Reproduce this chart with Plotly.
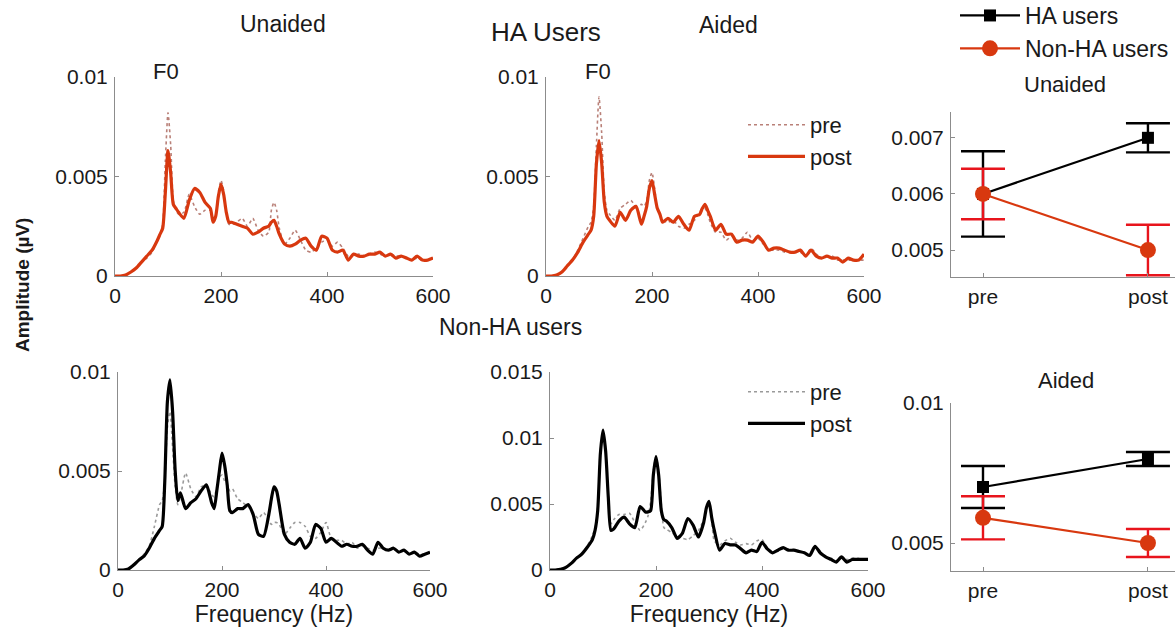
import plotly.graph_objects as go

W, H = 1175, 629

# ---------------- data ----------------
FREQ = [0, 10, 20, 30, 40, 50, 60, 70, 80,
        85, 90, 95, 100, 105, 110, 115, 120,
        130, 140, 150, 160, 170, 180,
        185, 190, 195, 200, 205, 210, 215, 220,
        230, 240, 250, 260, 270, 280, 290,
        295, 300, 305, 310,
        320, 330, 340, 350, 360, 370, 380, 390, 400, 410, 420, 430, 440, 450, 460,
        470, 480, 490, 500, 510, 520, 530, 540, 550, 560, 570, 580, 590, 600]

# HA users, unaided
HA_UNAIDED_PRE = [0, 0, 0.00005, 0.0002, 0.0004, 0.0007, 0.0009, 0.0012, 0.0018,
                  0.0021, 0.0026, 0.0058, 0.0082, 0.0066, 0.0038, 0.0033, 0.0031,
                  0.0032, 0.0041, 0.0035, 0.0031, 0.0033, 0.0033,
                  0.0028, 0.003, 0.0042, 0.0048, 0.0043, 0.0031, 0.0026, 0.0026,
                  0.0027, 0.0029, 0.0025, 0.0029, 0.0023, 0.002, 0.0022,
                  0.0033, 0.0037, 0.0033, 0.0024,
                  0.0016, 0.0019, 0.0023, 0.0018, 0.0013, 0.0012, 0.0014, 0.0017, 0.0018, 0.0015, 0.0017, 0.0014, 0.001, 0.0011, 0.0011,
                  0.001, 0.0011, 0.0012, 0.0011, 0.001, 0.0011, 0.001, 0.001, 0.0009, 0.0008, 0.0009, 0.0008, 0.0008, 0.0009]
HA_UNAIDED_POST = [0, 0, 0.00005, 0.0002, 0.0004, 0.0007, 0.001, 0.0013, 0.0018,
                   0.0021, 0.0024, 0.0042, 0.0063, 0.0052, 0.0036, 0.0034, 0.0032,
                   0.0029, 0.0038, 0.0044, 0.0042, 0.0037, 0.0034,
                   0.0027, 0.003, 0.004, 0.0046, 0.0041, 0.0032, 0.0027, 0.0027,
                   0.0026, 0.0025, 0.0024, 0.0021, 0.0022, 0.0024, 0.0025,
                   0.0027, 0.0028, 0.0025, 0.0021,
                   0.0016, 0.0015, 0.0016, 0.0018, 0.0019, 0.0015, 0.0013, 0.002, 0.0019, 0.0013, 0.0012, 0.0013, 0.0008, 0.0011, 0.001,
                   0.001, 0.0011, 0.0011, 0.0012, 0.001, 0.0011, 0.0009, 0.001, 0.0009, 0.0008, 0.001, 0.0008, 0.0008, 0.0009]

# HA users, aided
HA_AIDED_PRE = [0, 0, 0.00005, 0.0002, 0.0005, 0.0008, 0.0013, 0.0019, 0.0025,
                0.0027, 0.0035, 0.0065, 0.009, 0.0072, 0.0042, 0.0033, 0.0031,
                0.0028, 0.0034, 0.0036, 0.0038, 0.0035, 0.0036,
                0.0035, 0.0038, 0.0048, 0.0052, 0.0044, 0.0034, 0.0031, 0.0028,
                0.0027, 0.0028, 0.0025, 0.0024, 0.0026, 0.0028, 0.0032,
                0.0034, 0.0034, 0.0031, 0.0027,
                0.0022, 0.0022, 0.0018, 0.002, 0.0018, 0.0019, 0.0022, 0.0018, 0.0019, 0.0016, 0.0013, 0.0013, 0.0013, 0.0012, 0.0012,
                0.0012, 0.0012, 0.001, 0.0014, 0.0011, 0.0009, 0.001, 0.001, 0.0008, 0.0008, 0.0008, 0.0008, 0.0008, 0.0008]
HA_AIDED_POST = [0, 0, 0.00005, 0.0002, 0.0005, 0.0008, 0.0012, 0.0017, 0.0021,
                 0.0023, 0.003, 0.0056, 0.0068, 0.0057, 0.0037, 0.003, 0.0028,
                 0.0025, 0.0032, 0.0028, 0.0033, 0.0035, 0.0026,
                 0.003, 0.0035, 0.0044, 0.0048, 0.0041, 0.0034, 0.0031, 0.0027,
                 0.0029, 0.0027, 0.003, 0.0026, 0.0023, 0.003, 0.0031,
                 0.0034, 0.0036, 0.0033, 0.003,
                 0.0023, 0.0026, 0.0021, 0.0021, 0.0017, 0.0018, 0.0018, 0.0017, 0.002, 0.0017, 0.0013, 0.0014, 0.0014, 0.0013, 0.0012,
                 0.0012, 0.0013, 0.001, 0.0013, 0.001, 0.0009, 0.001, 0.0009, 0.0009, 0.0007, 0.0009, 0.0008, 0.0008, 0.0011]

# Non-HA users, unaided
NON_UNAIDED_PRE = [0, 0, 0.00005, 0.00025, 0.0005, 0.0008, 0.0012, 0.0022, 0.0033,
                   0.0035, 0.0045, 0.0072, 0.008, 0.0062, 0.0042, 0.0033, 0.0037,
                   0.0049, 0.0041, 0.0037, 0.0042, 0.0043, 0.0038,
                   0.0037, 0.0042, 0.0047, 0.0048, 0.0045, 0.0043, 0.004, 0.0041,
                   0.0036, 0.0034, 0.0032, 0.0029, 0.0026, 0.0029, 0.0025,
                   0.0023, 0.0024, 0.0024, 0.0023,
                   0.0018, 0.0021, 0.0024, 0.0024, 0.0022, 0.0017, 0.0016, 0.0019, 0.0024, 0.0016, 0.0015, 0.0015, 0.0013, 0.0014, 0.0011,
                   0.0012, 0.0011, 0.001, 0.0011, 0.0011, 0.001, 0.0011, 0.0009, 0.001, 0.0008, 0.0009, 0.0008, 0.0008, 0.0009]
NON_UNAIDED_POST = [0, 0, 0.00005, 0.00025, 0.0005, 0.0007, 0.0011, 0.0016, 0.002,
                    0.0022, 0.0045, 0.0085, 0.0096, 0.008, 0.005, 0.0035, 0.0039,
                    0.0031, 0.0034, 0.0036, 0.004, 0.0043, 0.0034,
                    0.0031, 0.004, 0.005, 0.0059, 0.0053, 0.0043, 0.003, 0.0029,
                    0.0031, 0.0031, 0.0033, 0.0028, 0.0018, 0.0017, 0.0028,
                    0.0036, 0.0042, 0.004, 0.0033,
                    0.0018, 0.0014, 0.0013, 0.0016, 0.0011, 0.0014, 0.0023, 0.0021, 0.0014, 0.0016, 0.0014, 0.0012, 0.0013, 0.0012, 0.0012,
                    0.0013, 0.001, 0.0008, 0.0014, 0.0011, 0.001, 0.0011, 0.0009, 0.001, 0.0008, 0.0009, 0.0007, 0.0008, 0.0009]

# Non-HA users, aided
NON_AIDED_PRE = [0, 0, 0.00005, 0.0002, 0.0005, 0.0009, 0.0013, 0.0018, 0.0026,
                 0.0032, 0.0048, 0.009, 0.0104, 0.009, 0.0055, 0.0035, 0.0038,
                 0.0042, 0.0042, 0.0043, 0.0036, 0.003, 0.0036,
                 0.0041, 0.0052, 0.0075, 0.0086, 0.0075, 0.005, 0.0032, 0.0031,
                 0.0028, 0.0026, 0.0024, 0.0023, 0.0026, 0.003, 0.0038,
                 0.0048, 0.0049, 0.0038, 0.0022,
                 0.0019, 0.0022, 0.0024, 0.0021, 0.0019, 0.002, 0.0019, 0.0022, 0.0023, 0.0017, 0.0014, 0.0015, 0.0016, 0.0016, 0.0015,
                 0.0014, 0.0013, 0.0012, 0.0018, 0.0012, 0.001, 0.0009, 0.0007, 0.001, 0.0008, 0.0009, 0.0009, 0.0008, 0.0009]
NON_AIDED_POST = [0, 0, 0.00005, 0.0002, 0.0005, 0.0009, 0.0012, 0.0017, 0.0023,
                  0.003, 0.0045, 0.0088, 0.0106, 0.009, 0.0055, 0.003, 0.0031,
                  0.0037, 0.004, 0.0035, 0.0032, 0.0048, 0.0044,
                  0.0044, 0.0045, 0.0072, 0.0086, 0.0072, 0.0045, 0.0038, 0.0037,
                  0.0032, 0.0024, 0.0028, 0.0039, 0.0034, 0.0025, 0.0036,
                  0.0047, 0.0052, 0.004, 0.003,
                  0.0015, 0.002, 0.0019, 0.0019, 0.0016, 0.0013, 0.0015, 0.0014, 0.0021, 0.0016, 0.0013, 0.0015, 0.0017, 0.0015, 0.0015,
                  0.0014, 0.0013, 0.0011, 0.0018, 0.0013, 0.001, 0.0008, 0.0006, 0.001, 0.0006, 0.0008, 0.0008, 0.0008, 0.0008]

# Group means (F0 amplitude) and error bars
CONDITIONS = ["pre", "post"]
HA_MEAN_UNAIDED = [0.006, 0.007]
HA_ERR_UNAIDED = [0.00076, 0.00026]
NON_MEAN_UNAIDED = [0.006, 0.005]
NON_ERR_UNAIDED = [0.00045, 0.00045]
HA_MEAN_AIDED = [0.007, 0.008]
HA_ERR_AIDED = [0.00075, 0.00025]
NON_MEAN_AIDED = [0.0059, 0.005]
NON_ERR_AIDED = [0.00077, 0.0005]

FREQ_TICKS = [0, 200, 400, 600]

# ---------------- styles ----------------
FONT = "Liberation Sans, Arial, Helvetica, sans-serif"
TXT = "#1a1a1a"
AX = "#8c8c8c"
ORANGE = "#d8380f"
PRE_ORANGE = "#b98078"
RED = "#e8141c"
BLACK = "#000000"
PRE_GREY = "#9a9a9a"
TICK_SIZE = 21


def px_x(x):
    return x / W


def px_y(y):
    return 1 - y / H


fig = go.Figure()


def spectrum(xa, ya, pre, post, post_color, pre_color, legend=None):
    show = legend is not None
    fig.add_trace(go.Scatter(x=FREQ, y=pre, mode="lines", name="pre",
                             line=dict(color=pre_color, width=1.6, dash="dot", shape="spline", smoothing=0.6),
                             xaxis=xa, yaxis=ya, showlegend=show, legend=legend or "legend"))
    fig.add_trace(go.Scatter(x=FREQ, y=post, mode="lines", name="post",
                             line=dict(color=post_color, width=3.2, shape="spline", smoothing=0.6),
                             xaxis=xa, yaxis=ya, showlegend=show, legend=legend or "legend"))


spectrum("x", "y", HA_UNAIDED_PRE, HA_UNAIDED_POST, ORANGE, PRE_ORANGE)
spectrum("x2", "y2", HA_AIDED_PRE, HA_AIDED_POST, ORANGE, PRE_ORANGE, legend="legend2")
spectrum("x3", "y3", NON_UNAIDED_PRE, NON_UNAIDED_POST, BLACK, PRE_GREY)
spectrum("x4", "y4", NON_AIDED_PRE, NON_AIDED_POST, BLACK, PRE_GREY, legend="legend3")


def group(xa, ya, mean, err, name, lcolor, ecolor, symbol, msize, show):
    fig.add_trace(go.Scatter(x=CONDITIONS, y=mean, mode="lines+markers", name=name,
                             line=dict(color=lcolor, width=2.2),
                             marker=dict(symbol=symbol, size=msize, color=lcolor),
                             error_y=dict(type="data", array=err, visible=True, color=ecolor,
                                          thickness=2.4, width=22),
                             xaxis=xa, yaxis=ya, showlegend=show, legend="legend"))


group("x5", "y5", HA_MEAN_UNAIDED, HA_ERR_UNAIDED, "HA users", BLACK, BLACK, "square", 12, True)
group("x5", "y5", NON_MEAN_UNAIDED, NON_ERR_UNAIDED, "Non-HA users", ORANGE, RED, "circle", 16, True)
group("x6", "y6", HA_MEAN_AIDED, HA_ERR_AIDED, "HA users", BLACK, BLACK, "square", 12, False)
group("x6", "y6", NON_MEAN_AIDED, NON_ERR_AIDED, "Non-HA users", ORANGE, RED, "circle", 16, False)

# ---------------- axes ----------------
tickfont = dict(family=FONT, size=TICK_SIZE, color=TXT)


def xax(domain, anchor, title=None, **kw):
    d = dict(domain=domain, anchor=anchor, showline=True, linecolor=AX, linewidth=1,
             ticks="inside", ticklen=4, tickcolor=AX, showgrid=False, zeroline=False,
             tickfont=tickfont, ticklabelstandoff=1, fixedrange=True)
    if title:
        d["title"] = dict(text=title, font=dict(family=FONT, size=23, color=TXT), standoff=0)
    d.update(kw)
    return d


def yax(domain, anchor, rng, tickvals, ticktext):
    return dict(domain=domain, anchor=anchor, range=rng, showline=True, linecolor=AX, linewidth=1,
                ticks="inside", ticklen=4, tickcolor=AX, showgrid=False, zeroline=False,
                tickvals=tickvals, ticktext=ticktext, tickfont=tickfont, ticklabelstandoff=2,
                fixedrange=True)


top_y = [px_y(276), px_y(77)]
bot_y = [px_y(570), px_y(372)]
freq_kw = dict(range=[0, 600], tickvals=FREQ_TICKS)

fig.update_layout(
    xaxis=xax([px_x(115), px_x(433)], "y", **freq_kw),
    yaxis=yax(top_y, "x", [0, 0.01], [0, 0.005, 0.01], ["0", "0.005", "0.01"]),
    xaxis2=xax([px_x(546), px_x(864)], "y2", **freq_kw),
    yaxis2=yax(top_y, "x2", [0, 0.01], [0, 0.005, 0.01], ["0", "0.005", "0.01"]),
    xaxis3=xax([px_x(118), px_x(430)], "y3", title="Frequency (Hz)", **freq_kw),
    yaxis3=yax(bot_y, "x3", [0, 0.01], [0, 0.005, 0.01], ["0", "0.005", "0.01"]),
    xaxis4=xax([px_x(550), px_x(868)], "y4", title="Frequency (Hz)", **freq_kw),
    yaxis4=yax(bot_y, "x4", [0, 0.015], [0, 0.005, 0.01, 0.015], ["0", "0.005", "0.01", "0.015"]),
    xaxis5=xax([px_x(951), 1.0], "y5", type="category", range=[-0.194, 1.164]),
    yaxis5=yax([px_y(277), px_y(112)], "x5", [0.00452, 0.00746], [0.005, 0.006, 0.007],
               ["0.005", "0.006", "0.007"]),
    xaxis6=xax([px_x(951), 1.0], "y6", type="category", range=[-0.194, 1.164]),
    yaxis6=yax([px_y(571), px_y(403)], "x6", [0.004, 0.01], [0.005, 0.01], ["0.005", "0.01"]),
)

legend_common = dict(bgcolor="rgba(0,0,0,0)", borderwidth=0, xanchor="left", yanchor="top",
                     tracegroupgap=0, itemclick=False, itemdoubleclick=False)
fig.update_layout(
    legend=dict(x=px_x(955), y=px_y(-6), itemwidth=60,
                font=dict(family=FONT, size=23, color=TXT), **legend_common),
    legend2=dict(x=px_x(743), y=px_y(104), itemwidth=57,
                 font=dict(family=FONT, size=22, color=TXT), **legend_common),
    legend3=dict(x=px_x(743), y=px_y(371), itemwidth=57,
                 font=dict(family=FONT, size=22, color=TXT), **legend_common),
)

# ---------------- annotations ----------------
def ann(text, x, y, size=21, **kw):
    fig.add_annotation(text=text, x=px_x(x), y=px_y(y), xref="paper", yref="paper",
                       showarrow=False, font=dict(family=FONT, size=size, color=TXT),
                       xanchor="center", yanchor="middle", **kw)


ann("Unaided", 283, 24, size=23)
ann("HA Users", 546, 32, size=26)
ann("Aided", 728, 25, size=23)
ann("F0", 166, 71, size=22)
ann("F0", 598, 71, size=22)
ann("Non-HA users", 510, 327, size=23)
ann("Unaided", 1065, 85, size=22)
ann("Aided", 1066, 380, size=22)
ann("<b>Amplitude (µV)</b>", 22, 285, size=19, textangle=-90)

fig.update_layout(width=W, height=H, autosize=False,
                  margin=dict(l=0, r=0, t=0, b=0, autoexpand=False),
                  paper_bgcolor="white", plot_bgcolor="white",
                  font=dict(family=FONT, size=21, color=TXT))

fig.write_html("out.html", config={"displayModeBar": False},
               post_script="document.body.style.margin='0px';")
